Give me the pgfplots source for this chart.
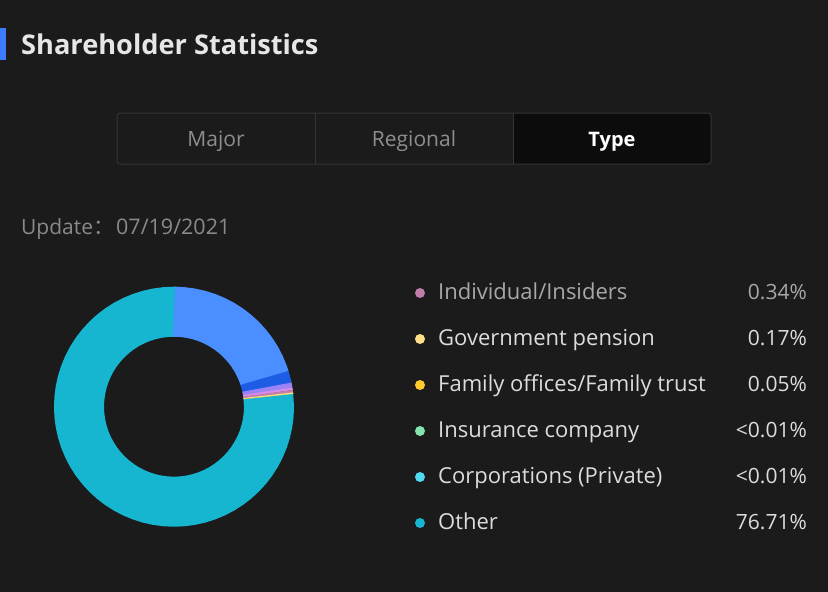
\documentclass[border=0pt]{standalone}
\usepackage{pgfplots}
\pgfplotsset{compat=1.18}
\usepgfplotslibrary{polar}
\usepackage{fontspec}
\setmainfont{Open Sans}
\newfontfamily\cjk{Noto Sans CJK SC}
\definecolor{bg}{HTML}{1B1B1B}
\definecolor{titlebar}{HTML}{3D7BFF}
\definecolor{titletext}{HTML}{E6E6E6}
\definecolor{tabborder}{HTML}{343434}
\definecolor{tabsel}{HTML}{0C0C0C}
\definecolor{tabtext}{HTML}{8E8E8E}
\definecolor{graytext}{HTML}{8A8A8A}
\definecolor{lightgray}{HTML}{A8A8A8}
\definecolor{lighttext}{HTML}{DCDCDC}
\definecolor{cBlue}{HTML}{4B8EFF}
\definecolor{cDarkBlue}{HTML}{1D5DE6}
\definecolor{cViolet}{HTML}{9B82F5}
\definecolor{cMagenta}{HTML}{D78DEB}
\definecolor{cPink}{HTML}{C07DAA}
\definecolor{cLightYellow}{HTML}{FFE08A}
\definecolor{cYellow}{HTML}{FFCB2F}
\definecolor{cGreen}{HTML}{86E3AE}
\definecolor{cCyan}{HTML}{52D9F2}
\definecolor{cOther}{HTML}{17B6D0}
\begin{document}
\begin{tikzpicture}
\begin{scope}[x=1pt,y=-1pt]
\useasboundingbox (0,0) rectangle (828,592);
\fill[bg] (0,0) rectangle (828,592);
% title
\fill[titlebar] (0,28) rectangle (6,60);
\node[anchor=base west, inner sep=0, text=titletext, font=\fontsize{27.2}{27.2}\selectfont\bfseries] at (21,54) {Shareholder Statistics};
% tabs
\fill[tabsel, rounded corners=3pt] (513,113) -- (711,113) -- (711,164) -- (513,164) [sharp corners] -- cycle;
\fill[tabsel] (513,113) rectangle (520,164);
\draw[tabborder, rounded corners=3pt, line width=1pt] (117,113) rectangle (711,164);
\draw[tabborder, line width=1pt] (315,113) -- (315,164);
\draw[tabborder, line width=1pt] (513,113) -- (513,164);
\node[anchor=base, inner sep=0, text=tabtext, font=\fontsize{21}{21}\selectfont] at (216,146) {Major};
\node[anchor=base, inner sep=0, text=tabtext, font=\fontsize{21}{21}\selectfont] at (414,146) {Regional};
\node[anchor=base, inner sep=0, text=white, font=\fontsize{20}{20}\selectfont\bfseries] at (612,146) {Type};
% update
\node[anchor=base west, inner sep=0, text=graytext, font=\fontsize{21}{21}\selectfont] at (21,234) {Update{\cjk ：}};
\node[anchor=base west, inner sep=0, text=graytext, font=\fontsize{21.5}{21.5}\selectfont] at (116,234) {07/19/2021};
% legend
\foreach \y/\c/\t/\p/\tc in {
  299/cPink/Individual\slash Insiders/0.34\%/lightgray,
  345/cLightYellow/Government pension/0.17\%/lighttext,
  391/cYellow/Family offices\slash Family trust/0.05\%/lighttext,
  437/cGreen/Insurance company/<0.01\%/lighttext,
  483/cCyan/Corporations (Private)/<0.01\%/lighttext,
  529/cOther/Other/76.71\%/lighttext}{
  \node[circle, fill=\c, inner sep=0, minimum size=10pt] at (420,\y-6) {};
  \node[anchor=base west, inner sep=0, text=\tc, font=\fontsize{22}{22}\selectfont] at (438,\y) {\t};
  \node[anchor=base east, inner sep=0, text=\tc, font=\fontsize{21}{21}\selectfont] at (807,\y) {\p};
}
\end{scope}
% donut
\begin{polaraxis}[at={(174pt,-406.7pt)}, anchor=origin, hide axis, scale only axis,
  width=240pt, height=240pt, ymin=0, ymax=120, clip=false]
\addplot[cOther, line width=50pt, line cap=butt] coordinates {
 (7.5,95) (0,95) (-5,95) (-10,95) (-15,95) (-20,95) (-25,95) (-30,95) (-35,95) (-40,95)
 (-45,95) (-50,95) (-55,95) (-60,95) (-65,95) (-70,95) (-75,95) (-80,95) (-85,95) (-90,95)
 (-95,95) (-100,95) (-105,95) (-110,95) (-115,95) (-120,95) (-125,95) (-130,95) (-135,95)
 (-140,95) (-145,95) (-150,95) (-155,95) (-160,95) (-165,95) (-170,95) (-175,95) (-180,95)
 (-185,95) (-190,95) (-195,95) (-200,95) (-205,95) (-210,95) (-215,95) (-220,95) (-225,95)
 (-230,95) (-235,95) (-240,95) (-245,95) (-250,95) (-255,95) (-260,95) (-265,95) (-270,95) (-272,95)};
\addplot[cBlue, line width=50pt, line cap=butt] coordinates {
 (90,95) (85,95) (80,95) (75,95) (70,95) (65,95) (60,95) (55,95) (50,95) (45,95) (40,95)
 (35,95) (30,95) (25,95) (20,95) (17.64,95) (17.2,95)};
\addplot[cDarkBlue, line width=50pt, line cap=butt] coordinates {(17.64,95) (14.76,95) (11.88,95) (11.5,95)};
\addplot[cViolet, line width=50pt, line cap=butt] coordinates {(11.88,95) (9.36,95) (9.1,95)};
\addplot[cMagenta, line width=50pt, line cap=butt] coordinates {(9.36,95) (8.17,95) (7.95,95)};
\addplot[cPink, line width=50pt, line cap=butt] coordinates {(8.17,95) (6.95,95) (6.8,95)};
\addplot[cLightYellow, line width=50pt, line cap=butt] coordinates {(6.95,95) (6.34,95) (6.25,95)};
\addplot[cYellow, line width=50pt, line cap=butt] coordinates {(6.34,95) (6.16,95)};
\end{polaraxis}
\end{tikzpicture}
\end{document}
